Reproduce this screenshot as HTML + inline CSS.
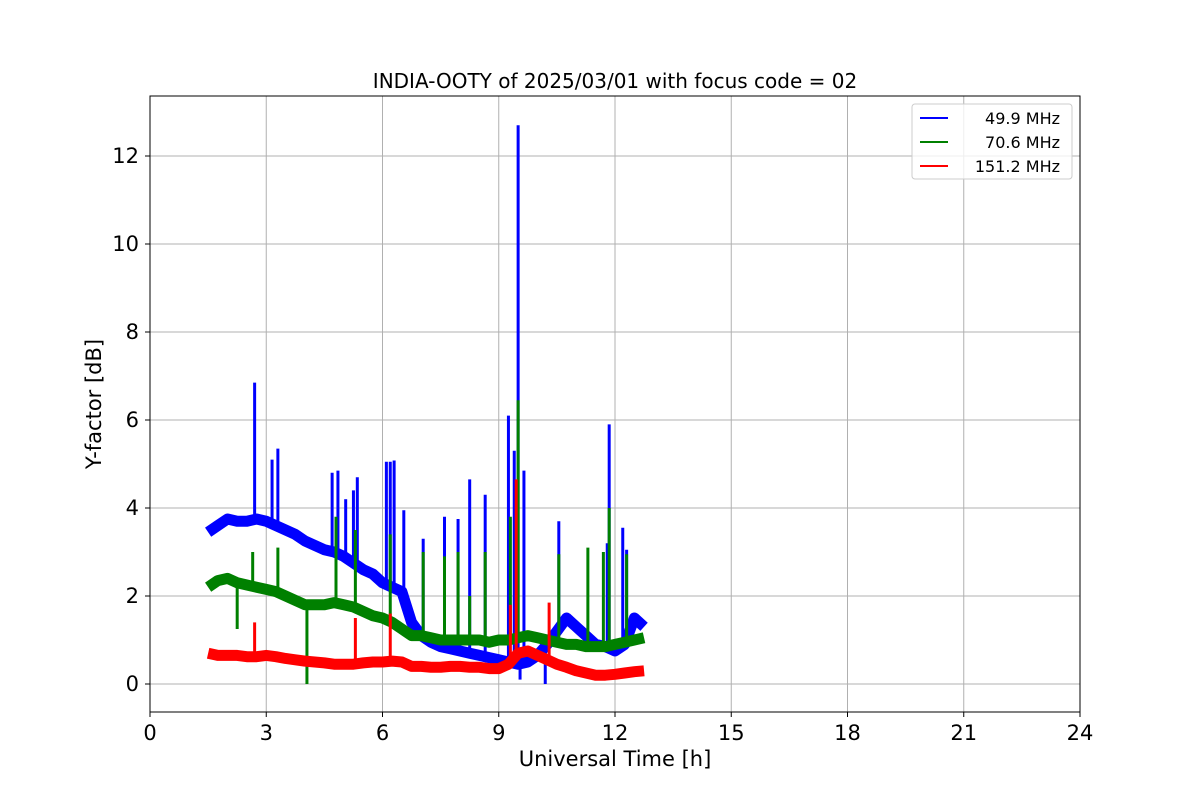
<!DOCTYPE html>
<html><head><meta charset="utf-8"><style>
body{margin:0;background:#fff;font-family:"Liberation Sans","DejaVu Sans",sans-serif;}
svg text{font-family:"DejaVu Sans","Liberation Sans",sans-serif;}
</style></head><body>
<svg width="1200" height="800" xmlns="http://www.w3.org/2000/svg" id="chart">
<text x="615" y="88" font-size="20" text-anchor="middle">INDIA-OOTY of 2025/03/01 with focus code = 02</text>
<g id="grid"></g>
<g id="series"></g>
<rect x="150" y="96" width="930" height="616" fill="none" stroke="#000" stroke-width="1"/>
<g id="axes"></g>
<text x="615" y="766" font-size="21" text-anchor="middle">Universal Time [h]</text>
<text x="101" y="404" font-size="21" text-anchor="middle" transform="rotate(-90 101 404)">Y-factor [dB]</text>
<g>
<rect x="912" y="104" width="160" height="75" rx="3" fill="#fff" fill-opacity="0.8" stroke="#ccc"/>
<g id="legend"></g>
</g>
</svg>
<script>
const xTicks=[0,3,6,9,12,15,18,21,24];
const yTicks=[0,2,4,6,8,10,12];
const seriesNames=["49.9 MHz","70.6 MHz","151.2 MHz"];
const seriesColors=["#0000ff","#008000","#ff0000"];
const times=[1.5,1.75,2,2.25,2.5,2.75,3,3.25,3.5,3.75,4,4.25,4.5,4.75,5,5.25,5.5,5.75,6,6.25,6.5,6.75,7,7.25,7.5,7.75,8,8.25,8.5,8.75,9,9.25,9.5,9.75,10,10.25,10.5,10.75,11,11.25,11.5,11.75,12,12.25,12.5,12.75];
const blue=[3.45,3.6,3.75,3.7,3.7,3.75,3.7,3.6,3.5,3.4,3.25,3.15,3.05,3.0,2.9,2.75,2.6,2.5,2.3,2.2,2.1,1.4,1.1,0.95,0.85,0.8,0.75,0.7,0.65,0.6,0.55,0.5,0.45,0.5,0.65,0.9,1.2,1.5,1.3,1.1,0.9,0.85,0.75,0.9,1.5,1.3];
const green=[2.2,2.35,2.4,2.3,2.25,2.2,2.15,2.1,2.0,1.9,1.8,1.8,1.8,1.85,1.8,1.75,1.65,1.55,1.5,1.4,1.25,1.1,1.1,1.05,1.0,1.0,1.0,1.0,1.0,0.95,1.0,1.0,1.05,1.1,1.05,1.0,0.95,0.9,0.9,0.85,0.85,0.85,0.9,0.95,1.0,1.05];
const red=[0.7,0.65,0.65,0.65,0.62,0.62,0.65,0.62,0.58,0.55,0.52,0.5,0.48,0.45,0.45,0.45,0.48,0.5,0.5,0.52,0.5,0.4,0.4,0.38,0.38,0.4,0.4,0.38,0.38,0.35,0.35,0.45,0.7,0.75,0.65,0.55,0.45,0.38,0.3,0.25,0.2,0.2,0.22,0.25,0.28,0.3];
const blueSpikeT=[2.7,3.15,3.3,4.7,4.85,5.05,5.25,5.35,6.1,6.2,6.3,6.55,7.05,7.6,7.95,8.25,8.65,9.25,9.4,9.5,9.65,10.55,11.8,11.85,12.2,12.3,10.2,9.55];
const blueSpikeV=[6.85,5.1,5.35,4.8,4.85,4.2,4.4,4.7,5.05,5.05,5.08,3.95,3.3,3.8,3.75,4.65,4.3,6.1,5.3,12.7,4.85,3.7,3.2,5.9,3.55,3.05,0.0,0.1];
const greenSpikeT=[2.25,2.65,3.3,4.05,4.8,5.3,6.2,7.05,7.6,7.95,8.25,8.65,9.3,9.5,10.55,11.3,11.7,11.85,12.3];
const greenSpikeV=[1.25,3.0,3.1,0.0,3.8,3.5,3.4,3.0,2.9,3.0,2.0,3.0,3.8,6.45,2.95,3.1,3.0,4.0,2.95];
const redSpikeT=[2.7,5.3,6.2,9.3,9.45,10.3];
const redSpikeV=[1.4,1.5,1.6,1.8,4.65,1.85];

const NS="http://www.w3.org/2000/svg";
const X=t=>150+t*930/24;
const Y=v=>684-v*44;
function mk(tag,attrs,parent){const e=document.createElementNS(NS,tag);for(const k in attrs)e.setAttribute(k,attrs[k]);parent.appendChild(e);return e;}
const grid=document.getElementById('grid'),axes=document.getElementById('axes'),ser=document.getElementById('series'),leg=document.getElementById('legend');
xTicks.forEach(t=>{
 const g=mk('line',{x1:X(t),x2:X(t),y1:96,y2:712,stroke:'#b0b0b0','stroke-width':1},grid);
 
 
 mk('line',{x1:X(t),x2:X(t),y1:712,y2:717,stroke:'#000'},axes);
 const l=mk('text',{x:X(t),y:740,'font-size':21,'text-anchor':'middle'},axes);l.textContent=t;
 
 
});
yTicks.forEach(v=>{
 const g=mk('line',{x1:150,x2:1080,y1:Y(v),y2:Y(v),stroke:'#b0b0b0','stroke-width':1},grid);
 
 
 mk('line',{x1:145,x2:150,y1:Y(v),y2:Y(v),stroke:'#000'},axes);
 const l=mk('text',{x:139,y:Y(v)+7,'font-size':21,'text-anchor':'end'},axes);l.textContent=v;
 
 
});
function interp(arr,t){for(let i=0;i<times.length-1;i++){if(t>=times[i]&&t<=times[i+1]){const f=(t-times[i])/(times[i+1]-times[i]);return arr[i]+f*(arr[i+1]-arr[i]);}}return arr[arr.length-1];}
const all=[[blue,blueSpikeT,blueSpikeV],[green,greenSpikeT,greenSpikeV],[red,redSpikeT,redSpikeV]];
all.forEach((s,i)=>{
 const g=mk('g',{},ser);
 
 
 const pts=times.map((t,j)=>X(t)+','+Y(s[0][j])).join(' ');
 const p=mk('polyline',{points:pts,fill:'none',stroke:seriesColors[i],'stroke-width':11,'stroke-linejoin':'round'},g);
 
 
 s[1].forEach((t,j)=>{
  const b=interp(s[0],t);
  const l=mk('line',{x1:X(t),x2:X(t),y1:Y(b),y2:Y(s[2][j]),stroke:seriesColors[i],'stroke-width':3},g);
  
  
 });
});
seriesNames.forEach((n,i)=>{
 const y=118+i*24;
 const ln=mk('line',{x1:920,x2:948,y1:y,y2:y,stroke:seriesColors[i],'stroke-width':2},leg);
 
 
 const t=mk('text',{x:1060,y:y+6,'font-size':16,'text-anchor':'end'},leg);t.textContent=n;
 
 
});
</script>
</body></html>
